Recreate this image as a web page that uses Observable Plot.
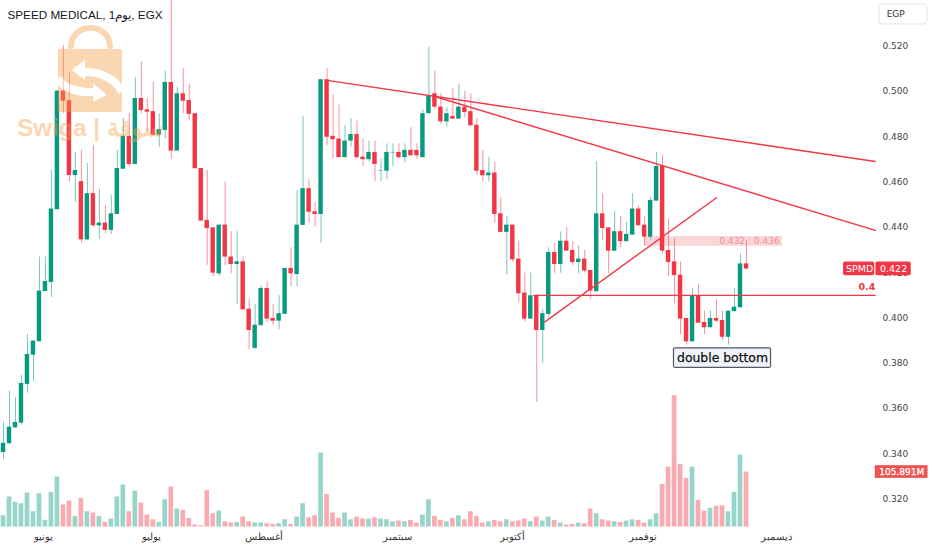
<!DOCTYPE html>
<html><head><meta charset="utf-8">
<style>html,body{margin:0;padding:0;background:#fff;overflow:hidden}svg{display:block}</style>
<script src="https://cdn.jsdelivr.net/npm/d3@7"></script>
<script src="https://cdn.jsdelivr.net/npm/@observablehq/plot@0.6"></script>
</head><body><div id="chart"></div>
<script>
const open_ = [
.3406,.3445,.3515,.3536,.3707,.3836,.3895,.4117,.4157,.4478,
.5002,.4960,.4629,.4602,.4345,.4549,.4407,.4419,.4387,.4457,
.4657,.4802,.4678,.4969,.4919,.4911,.4807,.4828,.5040,.4737,
.4990,.4960,.4902,.4660,.4431,.4398,.4195,.4410,.4269,.4236,
.4248,.4039,.3866,.3966,.4130,.3998,.3986,.4016,.4219,.4192,
.4409,.4571,.4469,.4457,.5052,.4802,.4790,.4708,.4781,.4810,
.4710,.4699,.4731,.4649,.4648,.4729,.4731,.4708,.4740,.4740,
.4708,.4902,.4990,.4931,.4866,.4890,.4878,.4931,.4911,.4851,
.4651,.4628,.4640,.4460,.4378,.4410,.4260,.4110,.3995,.4098,
.3945,.4016,.4289,.4236,.4339,.4298,.4245,.4260,.4210,.4116,
.4460,.4398,.4295,.4381,.4337,.4366,.4481,.4410,.4357,.4516,
.4669,.4298,.4248,.4189,.3998,.3895,.4098,.3980,.3957,.3998,
.3989,.3915,.4028,.4045,.4239];
const high = [
.3539,.3677,.3649,.3746,.3927,.3898,.4269,.4269,.4651,.5002,
.5203,.5081,.4731,.4740,.4682,.4762,.4569,.4498,.4541,.4740,
.4881,.4903,.5061,.5131,.4969,.5040,.4902,.5090,.5420,.5017,
.5100,.5031,.4902,.4660,.4651,.4398,.4410,.4600,.4381,.4381,
.4269,.4081,.4060,.4142,.4160,.4060,.4098,.4219,.4310,.4563,
.4890,.4610,.4510,.5052,.5100,.4983,.4940,.4850,.4880,.4869,
.4790,.4781,.4781,.4701,.4769,.4769,.4769,.4769,.4840,.4769,
.4919,.5195,.5090,.4990,.4928,.5012,.5031,.5002,.4990,.4880,
.4740,.4710,.4688,.4531,.4448,.4410,.4339,.4198,.4198,.4104,
.4039,.4310,.4330,.4381,.4398,.4337,.4319,.4298,.4210,.4690,
.4549,.4398,.4469,.4448,.4422,.4549,.4496,.4448,.4534,.4731,
.4719,.4438,.4351,.4248,.3998,.4130,.4148,.4030,.4030,.4081,
.4030,.4030,.4130,.4281,.4342];
const low = [
.3377,.3442,.3514,.3527,.3668,.3720,.3895,.4117,.4091,.4478,
.4904,.4600,.4511,.4330,.4342,.4401,.4348,.4372,.4369,.4457,
.4657,.4669,.4678,.4903,.4825,.4805,.4753,.4790,.4701,.4737,
.4902,.4869,.4659,.4428,.4232,.4183,.4183,.4232,.4195,.4061,
.4036,.3860,.3860,.3966,.3980,.3968,.3948,.4016,.4139,.4139,
.4409,.4419,.4401,.4330,.4762,.4701,.4708,.4708,.4754,.4701,
.4669,.4690,.4602,.4602,.4610,.4669,.4701,.4684,.4716,.4701,
.4708,.4902,.4919,.4855,.4843,.4878,.4878,.4884,.4843,.4631,
.4602,.4602,.4419,.4378,.4189,.4245,.4069,.3982,.3995,.3627,
.3798,.4004,.4197,.4198,.4295,.4231,.4195,.4198,.4081,.4116,
.4342,.4195,.4295,.4310,.4337,.4366,.4407,.4319,.4345,.4516,
.4284,.4183,.4063,.3927,.3880,.3892,.3977,.3927,.3957,.3980,
.3901,.3880,.4028,.4045,.4216];
const close_ = [
.3447,.3518,.3539,.3711,.3839,.3898,.4119,.4161,.4481,.5002,
.4957,.4629,.4651,.4345,.4549,.4407,.4419,.4387,.4460,.4660,
.4802,.4678,.4969,.4916,.4909,.4807,.4831,.5040,.4737,.4990,
.4957,.4899,.4659,.4428,.4395,.4198,.4410,.4269,.4236,.4248,
.4036,.3945,.3968,.4130,.3995,.3986,.4019,.4219,.4195,.4410,
.4571,.4467,.4457,.5052,.4798,.4787,.4708,.4781,.4810,.4708,
.4699,.4731,.4678,.4651,.4731,.4731,.4708,.4740,.4716,.4716,
.4902,.4981,.4931,.4866,.4902,.4878,.4931,.4907,.4849,.4648,
.4628,.4640,.4457,.4378,.4410,.4257,.4107,.3995,.4098,.3945,
.4019,.4289,.4236,.4339,.4295,.4245,.4260,.4207,.4119,.4460,
.4395,.4295,.4381,.4337,.4369,.4481,.4407,.4357,.4519,.4669,
.4295,.4245,.4187,.3995,.3895,.4098,.3977,.3957,.3998,.3986,
.3915,.4030,.4048,.4239,.4216];
// volume, millions
const volume = [
21.8,57.8,47.5,44.9,65.5,29.5,64.1,12.9,66.8,96.3,
42.4,50,20.6,55.2,29.5,27,20.6,9,15.4,57.8,
80.9,29.5,69.3,46.2,23.1,14,9,52.6,77,34.7,
32.1,16.7,3.9,2.5,70.6,25.6,30.8,10.2,7.7,9,
19.3,10.2,7.7,7.7,6.4,5.2,6.4,14,5.2,19.3,
44.9,17.9,21.8,142.5,62.9,27,16.7,27,14,19.3,
15.4,15.4,17.9,15.4,14,10.2,11.6,10.2,12.9,7.7,
23.1,52.6,20.6,12.9,10.2,16.7,21.8,14,29.5,20.6,
7.7,10.2,12.9,10.2,14,10.2,11.6,15.4,10.2,19.3,
11.6,19.3,12.9,7.7,3.9,5.2,7.7,6.4,34.7,25.6,
14,11.6,10.2,9,11.6,14,12.9,7.7,14,25.6,
82.2,115.5,252.8,120.7,93.7,115.5,51.4,30.8,36,39.8,
41,29.5,66.8,138.6,105.891];
const monthTicks = [6.7,24.7,43.4,65.8,85,106.8,129];
const monthLabels = ["يونيو","يوليو","أغسطس","سبتمبر","أكتوبر","نوفمبر","ديسمبر"];
const priceTicks = [.32,.34,.36,.38,.40,.42,.44,.46,.48,.50,.52];
const trendLines = [
  [{i:54,p:.5049},{i:145.5,p:.4691}],
  [{i:72,p:.4978},{i:145.5,p:.4387}],
  [{i:90.3,p:.3982},{i:119,p:.4531}],
  [{i:88.5,p:.41},{i:145.5,p:.41}]
];

const GREEN="#089981", RED="#f23645";
const idx = d3.range(open_.length);
const up = i => close_[i] >= open_[i];
const col = i => up(i) ? GREEN : RED;
// the volume pane sits on the price axis: a floor price plus a price per million
const volFloor=.3077, volK=.0002294;
const volY = v => volFloor + v*volK;
const F='"DejaVu Sans"';
const lbl = (x,y,text,o)=>Plot.text([text],{x:()=>x,y:()=>y,text:d=>d,...o});
const box = (x1,x2,y1,y2,o)=>Plot.rect([0],{x1:()=>x1,x2:()=>x2,y1:()=>y1,y2:()=>y2,...o});
const monthOf = d => monthLabels[monthTicks.indexOf(d)];

const svg = Plot.plot({
  width:932,height:550,marginTop:0,marginLeft:0,marginRight:57,marginBottom:23,
  style:{background:"#fff",overflow:"hidden"},
  x:{domain:[0,145.5],range:[3,874.8]},
  y:{domain:[.30,.54],range:[544,.4]},
  marks:[
    Plot.axisX({anchor:"bottom",ticks:monthTicks,tickSize:0,tickPadding:6,tickFormat:monthOf,
      fontFamily:'"Noto Sans"',fontSize:9.5,color:"#333",label:null}),
    Plot.axisY({anchor:"right",ticks:priceTicks,tickSize:0,tickPadding:7,tickFormat:d3.format(".3f"),
      fontFamily:F,fontSize:9,color:"#444",label:null}),
    Plot.rect(idx,{x1:i=>i-.39,x2:i=>i+.39,y1:()=>volFloor,y2:i=>volY(volume[i]),fill:col,fillOpacity:.42}),
    Plot.ruleX(idx,{x:i=>i,y1:i=>low[i],y2:i=>high[i],stroke:col,strokeWidth:1,strokeOpacity:.55}),
    Plot.rect(idx,{x1:i=>i-.37,x2:i=>i+.37,y1:i=>open_[i],y2:i=>close_[i],fill:col}),
    box(107,130,.4316,.4360,{fill:RED,fillOpacity:.2}),
    lbl(124.5,.4341,"0.432 : 0.436",{fill:"#f28b94",fontFamily:F,fontSize:9}),
    ...trendLines.map(l=>Plot.line(l,{x:"i",y:"p",stroke:RED,strokeWidth:1.4})),
    lbl(145.5,.4135,"0.4",{textAnchor:"end",fill:RED,fontFamily:F,fontSize:9.5,fontWeight:"bold"}),
    box(111.9,128.1,.3780,.3866,{fill:"#f0f3fa",stroke:"#555963",strokeWidth:1.2,rx:1.5}),
    lbl(120,.3822,"double bottom",{fill:"#111",fontFamily:F,fontSize:12.4,stroke:"#111",strokeWidth:.25}),
    box(140.2,145.4,.4187,.4247,{fill:RED,rx:2}),
    box(145.6,151.5,.4187,.4247,{fill:RED,rx:2}),
    lbl(142.9,.4217,"SPMD",{fill:"#fff",fontFamily:F,fontSize:9.5}),
    lbl(148.55,.4217,"0.422",{fill:"#fff",fontFamily:F,fontSize:9.5}),
    box(145.5,154.3,volY(105.891)-.0028,volY(105.891)+.0028,{fill:"#ef5350"}),
    lbl(149.9,volY(105.891),"105.891M",{fill:"#fff",fontFamily:F,fontSize:9,stroke:"#fff",strokeWidth:.25}),
    box(146.2,154.2,.5296,.5384,{fill:"#fff",stroke:"#e0e3eb",rx:3}),
    lbl(147.4,.534,"EGP",{textAnchor:"start",fill:"#333",fontFamily:F,fontSize:9}),
    lbl(.67,.5336,"SPEED MEDICAL, 1يوم, EGX",{textAnchor:"start",fill:"#131722",fontFamily:'"Liberation Sans"',fontSize:11.7})
  ]
});
// watermark logo on top of the chart
const wm = d3.select(svg).append("g").attr("opacity",.42);
wm.append("path").attr("d","M71 46 C72 22,109 22,110 46").attr("fill","none").attr("stroke","#f5a04a").attr("stroke-width",6).attr("stroke-linecap","round");
wm.append("path").attr("d","M60 49 H120 Q122 49 122 51 V110 Q122 112 120 112 H60 Q58 112 58 110 V51 Q58 49 60 49 Z").attr("fill","#f5a04a");
wm.append("path").attr("d","M85 72 C100 72 115 78 122 92 M58 78 C62 88 78 93 94 92").attr("fill","none").attr("stroke","#fff").attr("stroke-width",8);
wm.append("path").attr("d","M71.7 70 L85 60 V80 Z M106.7 95 L93.3 83.3 V101.7 Z").attr("fill","#fff");
wm.append("text").attr("x",90).attr("y",136).attr("text-anchor","middle").attr("font-family",'"Liberation Sans"').attr("font-weight","bold").attr("font-size",24).attr("fill","#f5a04a").text("Swiga | سوقة");
document.getElementById("chart").append(svg);
</script></body></html>
